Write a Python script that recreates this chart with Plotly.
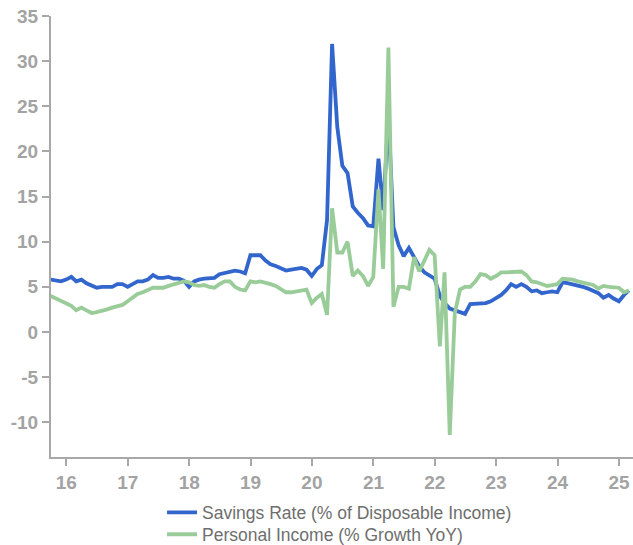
import pandas as pd
import plotly.graph_objects as go

# Monthly observations, Sep 2015 - Feb 2025 (plotted at month end)
months = pd.date_range(start="2015-09-30", periods=114, freq="ME")

savings_rate = [
    5.8, 5.7, 5.6, 5.8, 6.1, 5.6, 5.8, 5.4, 5.2, 4.9,
    5.0, 5.0, 5.0, 5.3, 5.3, 5.0, 5.3, 5.6, 5.6, 5.8,
    6.3, 6.0, 6.0, 6.1, 5.9, 5.9, 5.7, 5.0, 5.6, 5.8,
    5.9, 6.0, 6.0, 6.4, 6.5, 6.6, 6.8, 6.7, 6.5, 8.5,
    8.5, 8.5, 7.9, 7.5, 7.3, 7.1, 6.8, 6.9, 7.0, 7.1,
    6.9, 6.2, 7.0, 7.4, 12.4, 31.9, 22.7, 18.4, 17.6, 13.9,
    13.2, 12.6, 11.8, 11.7, 19.2, 13.5, 24.0, 11.6, 9.6, 8.4,
    9.3, 8.3, 7.3, 6.6, 6.2, 5.9, 4.0, 3.2, 2.6, 2.4,
    2.2, 2.0, 3.1, 3.1, 3.1, 3.2, 3.4, 3.7, 4.1, 4.6,
    5.3, 5.0, 5.3, 5.0, 4.5, 4.6, 4.3, 4.4, 4.5, 4.4,
    5.5, 5.4, 5.3, 5.2, 5.0, 4.8, 4.5, 4.3, 3.8, 4.1,
    3.7, 3.4, 4.1, 4.6,
]

income_growth = [
    4.0, 3.7, 3.4, 3.1, 2.9, 2.4, 2.7, 2.4, 2.1, 2.2,
    2.3, 2.5, 2.7, 2.9, 3.0, 3.4, 3.8, 4.2, 4.4, 4.7,
    4.9, 4.9, 4.9, 5.1, 5.3, 5.5, 5.6, 5.5, 5.2, 5.1,
    5.2, 5.0, 4.9, 5.3, 5.6, 5.6, 5.0, 4.7, 4.6, 5.6,
    5.5, 5.6, 5.5, 5.3, 5.1, 4.8, 4.4, 4.4, 4.5, 4.5,
    4.7, 3.2, 3.8, 4.2, 1.9, 13.7, 8.8, 8.8, 10.0, 6.2,
    6.8, 6.2, 5.1, 6.1, 15.8, 7.0, 31.5, 2.8, 5.0, 5.0,
    4.8, 8.3, 6.7, 7.9, 9.1, 8.5, -1.6, 6.6, -11.4, 2.1,
    4.7, 5.0, 5.0, 5.6, 6.4, 6.3, 5.9, 6.2, 6.6, 6.6,
    6.6, 6.6, 6.7, 6.3, 5.6, 5.5, 5.3, 5.1, 5.2, 5.3,
    5.9, 5.9, 5.8, 5.6, 5.5, 5.3, 5.2, 4.8, 5.1, 5.0,
    4.9, 4.9, 4.4, 4.6,
]

x_tick_dates = [f"{y}-01-01" for y in range(2016, 2026)]
x_tick_labels = ["16", "17", "18", "19", "20", "21", "22", "23", "24", "25"]
y_tick_values = [-10, -5, 0, 5, 10, 15, 20, 25, 30, 35]
y_tick_labels = ["-10", "-5", "0", "5", "10", "15", "20", "25", "30", "35"]

AXIS_GREY = "#a8a8a8"
TICK_FONT = dict(family="Arial, Liberation Sans, sans-serif", size=19,
                 color="#a3a3a3", weight=700)
LEGEND_FONT = dict(family="Arial, Liberation Sans, sans-serif", size=17.5,
                   color="#6e6e6e")

fig = go.Figure()
fig.add_trace(go.Scatter(
    x=months, y=savings_rate, mode="lines",
    name="Savings Rate (% of Disposable Income)",
    line=dict(color="#3366cc", width=3.8),
    legend="legend",
))
fig.add_trace(go.Scatter(
    x=months, y=income_growth, mode="lines",
    name="Personal Income (% Growth YoY)",
    line=dict(color="#99cc99", width=3.8),
    legend="legend2",
))

# Two stacked single-entry legends so the row spacing stays tight
legend_common = dict(
    orientation="v", xref="container", x=0.256, xanchor="left",
    yref="container", yanchor="top",
    font=LEGEND_FONT, bgcolor="rgba(0,0,0,0)",
)

fig.update_layout(
    width=633, height=545,
    margin=dict(l=51, r=0, t=16, b=88, autoexpand=False),
    paper_bgcolor="white", plot_bgcolor="white",
    showlegend=True,
    legend=dict(legend_common, y=0.0925),
    legend2=dict(legend_common, y=0.0525),
    xaxis=dict(
        type="date",
        range=["2015-10-02", "2025-03-25"],
        tickvals=x_tick_dates, ticktext=x_tick_labels,
        showgrid=False, zeroline=False,
        showline=True, linecolor=AXIS_GREY, linewidth=2,
        ticks="outside", ticklen=7, tickwidth=2, tickcolor=AXIS_GREY,
        tickfont=TICK_FONT,
    ),
    yaxis=dict(
        range=[-13.85, 35],
        tickvals=y_tick_values, ticktext=y_tick_labels,
        showgrid=False, zeroline=False,
        showline=True, linecolor=AXIS_GREY, linewidth=2,
        ticks="outside", ticklen=7, tickwidth=2, tickcolor=AXIS_GREY,
        tickfont=TICK_FONT,
    ),
)

fig.write_html("out.html")
